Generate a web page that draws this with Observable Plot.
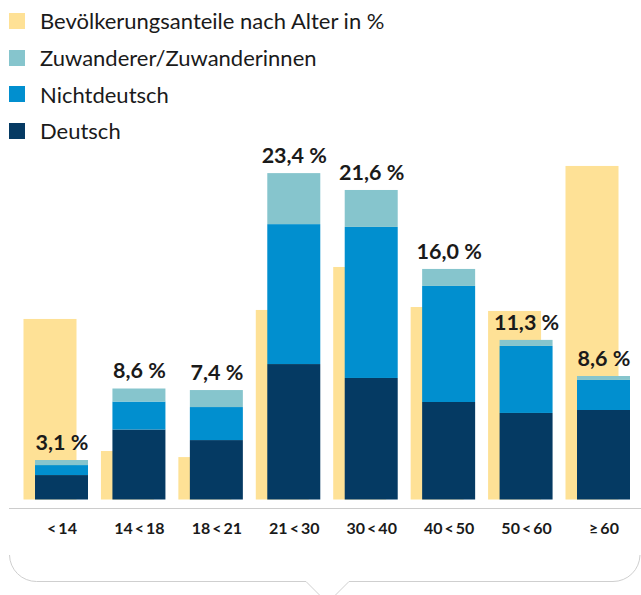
<!DOCTYPE html>
<html>
<head>
<meta charset="utf-8">
<script src="https://cdn.jsdelivr.net/npm/d3@7"></script>
<script src="https://cdn.jsdelivr.net/npm/@observablehq/plot@0.6"></script>
<style>
  html, body { margin: 0; padding: 0; background: #fff; }
  #wrap { position: relative; width: 641px; height: 595px; overflow: hidden; }
  #legend { position: absolute; left: 9px; top: 3px; }
  .lg-swatches { font-family: Lato, "Noto Sans", sans-serif !important; font-size: 22px !important; color: #1a1a1a; margin: 0 !important; }
  .lg-swatches .lg-swatch { height: 36.6px; display: flex; align-items: center; padding: 0 !important; margin: 0 !important; line-height: 1.35; }
  .lg-swatches .lg-swatch svg { margin-right: 15px !important; }
  .lg-swatches .lg-swatch-label { overflow: visible !important; }
</style>
</head>
<body>
<div id="wrap"><div id="chart"></div><div id="legend"></div></div>
<script>
const ages = ["<\u200914", "14\u2009<\u200918", "18\u2009<\u200921", "21\u2009<\u200930", "30\u2009<\u200940", "40\u2009<\u200950", "50\u2009<\u200960", "\u2265\u200960"];
const population = [12.85, 3.45, 3.02, 13.49, 16.55, 13.70, 13.42, 23.74];
const deutsch = [1.74, 4.98, 4.23, 9.64, 8.65, 6.94, 6.16, 6.37];
const nichtdeutsch = [0.71, 1.99, 2.35, 9.96, 10.75, 8.26, 4.77, 2.14];
const zuwanderer = [0.36, 0.93, 1.21, 3.63, 2.63, 1.21, 0.43, 0.28];
const totalLabels = ["3,1 %", "8,6 %", "7,4 %", "23,4 %", "21,6 %", "16,0 %", "11,3 %", "8,6 %"];
const seriesNames = ["Bevölkerungsanteile nach Alter in %", "Zuwanderer/Zuwanderinnen", "Nichtdeutsch", "Deutsch"];
const seriesColors = ["#fee196", "#86c5cd", "#018fcf", "#053a63"];

const stacked = [];
ages.forEach((a, i) => {
  stacked.push({age: a, group: seriesNames[3], value: deutsch[i]});
  stacked.push({age: a, group: seriesNames[2], value: nichtdeutsch[i]});
  stacked.push({age: a, group: seriesNames[1], value: zuwanderer[i]});
});
const totals = ages.map((a, i) => ({age: a, total: deutsch[i] + nichtdeutsch[i] + zuwanderer[i], label: totalLabels[i]}));
const popData = ages.map((a, i) => ({age: a, group: seriesNames[0], value: population[i]}));

const bracket = (index, scales, values, dims) => {
  const w = dims.width;
  const p = d3.create("svg:path")
    .attr("fill", "none")
    .attr("stroke", "#cfcfcf")
    .attr("stroke-width", 1)
    .attr("d", `M9.5,555 A27,27 0 0 0 36.5,581.5 H306 L327.5,603 L349,581.5 H${w - 28} A27,27 0 0 0 ${w - 1},555`);
  return p.node();
};

const chart = Plot.plot({
  width: 641,
  height: 595,
  marginLeft: 23.5,
  marginRight: 11,
  marginTop: 78,
  marginBottom: 95.5,
  style: {fontFamily: 'Lato, "Noto Sans", sans-serif', background: "#fff", color: "#1a1a1a", overflow: "visible"},
  x: {domain: ages, paddingInner: 0.167, paddingOuter: 0, round: false, axis: null, label: null},
  y: {domain: [0, 30], axis: null},
  color: {domain: seriesNames, range: seriesColors},
  marks: [
    Plot.barY(popData, {x: "age", y: "value", fill: "group", insetRight: 11.5}),
    Plot.barY(stacked, {x: "age", y: "value", fill: "group", insetLeft: 11.5}),
    Plot.text(totals, {x: "age", y: "total", text: "label", dx: 5.75, dy: -17.5, fontSize: 21.5, fontWeight: 700, fill: "#1a1a1a"}),
    Plot.ruleY([0], {dy: 8.5, insetLeft: -14.5, insetRight: -11, stroke: "#cccccc"}),
    Plot.axisX({tickSize: 0, tickPadding: 22.5, dx: 5.75, fontSize: 16, fontWeight: 700, fill: "#1a1a1a", label: null}),
    bracket
  ]
});
document.getElementById("chart").appendChild(chart);

const leg = chart.legend("color", {legend: "swatches", columns: 1, swatchSize: 16, className: "lg"});
document.getElementById("legend").appendChild(leg);
</script>
</body>
</html>
